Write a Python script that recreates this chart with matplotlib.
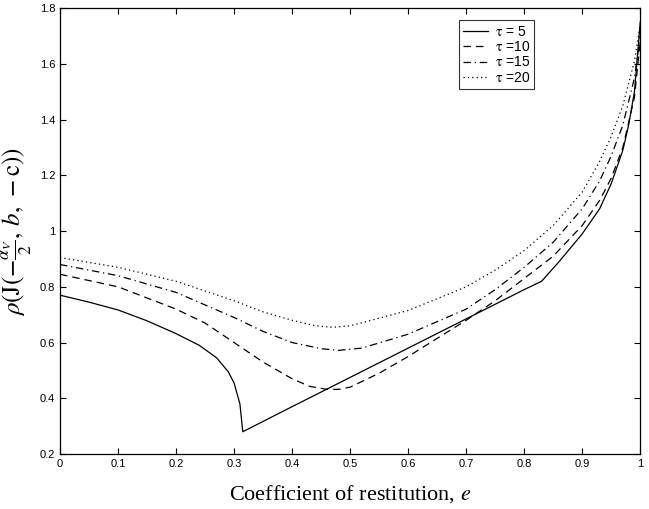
"""Spectral radius vs coefficient of restitution for several tau values."""
import numpy as np
import matplotlib
matplotlib.use("Agg")
import matplotlib.pyplot as plt

# values
e_tau5 = [0.0, 0.05, 0.1, 0.15, 0.2, 0.24, 0.27, 0.29, 0.30, 0.31, 0.315,
          0.4, 0.5, 0.6, 0.7, 0.8, 0.83, 0.86, 0.9, 0.93, 0.95, 0.97, 0.98, 0.99, 1.0]
rho_tau5 = [0.77, 0.745, 0.717, 0.678, 0.632, 0.59, 0.545, 0.495, 0.455, 0.38, 0.28,
            0.37, 0.475, 0.58, 0.685, 0.79, 0.82, 0.89, 0.99, 1.08, 1.17, 1.29, 1.38, 1.50, 1.75]

e_tau10 = [0.0, 0.1, 0.2, 0.25, 0.3, 0.35, 0.4, 0.43, 0.46, 0.48, 0.5, 0.55, 0.6,
           0.65, 0.7, 0.75, 0.8, 0.85, 0.9, 0.93, 0.95, 0.97, 0.99, 1.0]
rho_tau10 = [0.845, 0.80, 0.72, 0.67, 0.60, 0.53, 0.47, 0.443, 0.432, 0.432, 0.44, 0.49, 0.55,
             0.615, 0.68, 0.75, 0.83, 0.91, 1.02, 1.11, 1.19, 1.30, 1.48, 1.68]

e_tau15 = [0.0, 0.1, 0.2, 0.3, 0.35, 0.4, 0.45, 0.48, 0.52, 0.6, 0.7, 0.75, 0.8,
           0.85, 0.9, 0.93, 0.95, 0.97, 0.99, 1.0]
rho_tau15 = [0.88, 0.84, 0.78, 0.69, 0.64, 0.60, 0.578, 0.572, 0.58, 0.63, 0.72, 0.79, 0.87,
             0.96, 1.08, 1.18, 1.27, 1.38, 1.55, 1.70]

e_tau20 = [0.0, 0.1, 0.2, 0.3, 0.35, 0.4, 0.44, 0.47, 0.5, 0.6, 0.7, 0.75, 0.8,
           0.85, 0.9, 0.93, 0.95, 0.97, 0.99, 1.0]
rho_tau20 = [0.905, 0.87, 0.82, 0.75, 0.71, 0.68, 0.66, 0.655, 0.66, 0.715, 0.80, 0.86, 0.93,
             1.02, 1.14, 1.25, 1.34, 1.45, 1.61, 1.74]

xticks = np.arange(0, 1.01, 0.1)
yticks = np.arange(0.2, 1.81, 0.2)

plt.rcParams["font.family"] = ["Liberation Sans", "DejaVu Sans"]
plt.rcParams["mathtext.fontset"] = "stix"

fig = plt.figure(figsize=(6.49, 5.09), dpi=100)
ax = fig.add_axes([0.0925, 0.108, 0.894, 0.876])

ax.plot(e_tau5, rho_tau5, color="black", linestyle="-", linewidth=0.9, label=r"$\mathrm{\tau}$ = 5")
ax.plot(e_tau10, rho_tau10, color="black", linestyle=(0, (6, 4)), linewidth=0.9, label=r"$\mathrm{\tau}$ =10")
ax.plot(e_tau15, rho_tau15, color="black", linestyle=(0, (6, 3, 1, 3)), linewidth=0.9, label=r"$\mathrm{\tau}$ =15")
ax.plot(e_tau20, rho_tau20, color="black", linestyle=(0, (1, 2.5)), linewidth=0.9, label=r"$\mathrm{\tau}$ =20")

ax.set_xlim(0, 1)
ax.set_ylim(0.2, 1.8)
ax.set_xticks(xticks)
ax.set_xticklabels([f"{t:g}" for t in np.round(xticks, 1)])
ax.set_yticks(yticks)
ax.set_yticklabels([f"{t:g}" for t in np.round(yticks, 1)])
ax.tick_params(direction="in", top=True, right=True, labelsize=8, length=4, width=0.8)
for s in ax.spines.values():
    s.set_linewidth(0.9)

ax.set_xlabel(r"Coefficient of restitution, $e$", fontsize=16, family="Liberation Serif", labelpad=10)
ax.set_ylabel(r"$\rho(\mathrm{J}(-\frac{\alpha_V}{2},\, b,\, -\mathrm{c}))$", fontsize=18, labelpad=4)

leg = ax.legend(loc="upper left", bbox_to_anchor=(0.675, 0.988), fontsize=10, frameon=True,
                fancybox=False, edgecolor="black", handlelength=1.8, borderpad=0.3,
                labelspacing=0.1, handletextpad=0.5)
leg.get_frame().set_linewidth(0.8)

fig.savefig("out.png", dpi=100)
